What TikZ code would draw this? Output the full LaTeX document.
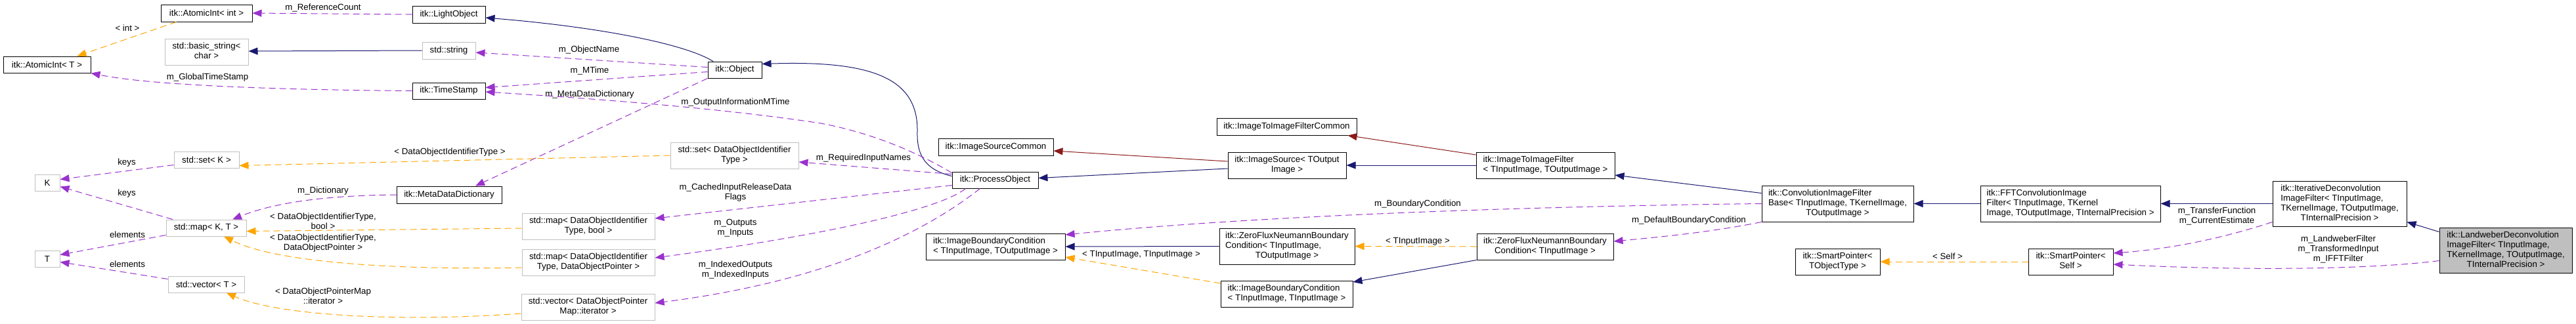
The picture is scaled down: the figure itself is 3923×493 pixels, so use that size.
\documentclass[tikz,border=0pt]{standalone}
\usepackage{fontspec}
\setmainfont{Liberation Sans}
\usetikzlibrary{arrows.meta}
\definecolor{edgeblue}{HTML}{191970}
\definecolor{edgepurple}{HTML}{9A32CD}
\definecolor{edgeorange}{HTML}{FFA500}
\definecolor{edgered}{HTML}{8B1A1A}
\definecolor{greybd}{HTML}{BFBFBF}
\definecolor{greyfill}{HTML}{BFBFBF}
\newcommand{\LinesL}[1]{\begin{tabular}{@{}l@{}}#1\end{tabular}}
\newcommand{\LinesC}[1]{\begin{tabular}{@{}c@{}}#1\end{tabular}}
\newcommand{\Cl}[1]{\multicolumn{1}{@{}c@{}}{#1}}
\begin{document}
\begin{tikzpicture}[x=1pt,y=-1pt,
  font=\fontsize{13.3}{15}\selectfont,
  dbox/.style={draw=black, line width=1pt, fill=white, inner sep=0pt, rectangle},
  gbox/.style={draw=greybd, line width=1pt, fill=white, inner sep=0pt, rectangle},
  hbox/.style={draw=black, line width=1pt, fill=greyfill, inner sep=0pt, rectangle},
  lbl/.style={inner sep=0pt, align=center},
  inh/.style={draw=edgeblue, line width=1pt, -{Triangle[length=14pt,width=11pt]}},
  prot/.style={draw=edgered, line width=1pt, -{Triangle[length=14pt,width=11pt]}},
  use/.style={draw=edgepurple, line width=1pt, dash pattern=on 10pt off 6pt, -{Triangle[length=14pt,width=11pt]}},
  tmpl/.style={draw=edgeorange, line width=1pt, dash pattern=on 10pt off 6pt, -{Triangle[length=14pt,width=11pt]}}
]
\fill[white] (0,0) rectangle (3923,493);
\useasboundingbox (0,0) rectangle (3923,493);

% nodes
\node[dbox, minimum width=139pt, minimum height=26pt] (atomInt) at (314.5,20) {itk::AtomicInt< int >};
\node[gbox, minimum width=127pt, minimum height=40pt] (basicStr) at (314.5,79) {\LinesC{std::basic\_string<\\char >}};
\node[dbox, minimum width=133pt, minimum height=25pt] (atomT) at (71.5,98.5) {itk::AtomicInt< T >};
\node[gbox, minimum width=99pt, minimum height=25pt] (setK) at (314.5,243.5) {std::set< K >};
\node[gbox, minimum width=38pt, minimum height=25pt] (K) at (72,278.5) {K};
\node[gbox, minimum width=38pt, minimum height=25pt] (T) at (72,394.5) {T};
\node[gbox, minimum width=122pt, minimum height=25pt] (mapKT) at (314,347.5) {std::map< K, T >};
\node[gbox, minimum width=116pt, minimum height=25pt] (vecT) at (314,433.5) {std::vector< T >};
\node[dbox, minimum width=160pt, minimum height=26pt] (metaDict) at (684,297) {itk::MetaDataDictionary};
\node[dbox, minimum width=111pt, minimum height=26pt] (lightObj) at (683.5,22) {itk::LightObject};
\node[gbox, minimum width=81pt, minimum height=26pt] (stdString) at (683.5,77) {std::string};
\node[dbox, minimum width=111pt, minimum height=25pt] (timeStamp) at (683.5,138.5) {itk::TimeStamp};
\node[dbox, minimum width=82pt, minimum height=25pt] (object) at (1119,106.5) {itk::Object};
\node[gbox, minimum width=195pt, minimum height=40pt] (setDOIT) at (1118.5,237) {\LinesC{std::set< DataObjectIdentifier\\Type >}};
\node[gbox, minimum width=202pt, minimum height=40pt] (mapBool) at (896,345) {\LinesC{std::map< DataObjectIdentifier\\Type, bool >}};
\node[gbox, minimum width=202pt, minimum height=40pt] (mapPtr) at (896,400) {\LinesC{std::map< DataObjectIdentifier\\Type, DataObjectPointer >}};
\node[gbox, minimum width=203pt, minimum height=40pt] (vecIt) at (895.5,468) {\LinesC{std::vector< DataObjectPointer\\Map::iterator >}};
\node[dbox, minimum width=175pt, minimum height=26pt] (isCommon) at (1516.5,224) {itk::ImageSourceCommon};
\node[dbox, minimum width=131pt, minimum height=25pt] (procObj) at (1515.5,274.5) {itk::ProcessObject};
\node[dbox, minimum width=212pt, minimum height=40pt] (ibcIO) at (1516,376) {\LinesL{itk::ImageBoundaryCondition\\< TInputImage, TOutputImage >}};
\node[dbox, minimum width=213pt, minimum height=26pt] (i2iCommon) at (1959.5,193) {itk::ImageToImageFilterCommon};
\node[dbox, minimum width=180pt, minimum height=40pt] (imgSource) at (1960,252) {\LinesC{itk::ImageSource< TOutput\\Image >}};
\node[dbox, minimum width=206pt, minimum height=55pt] (zfIO) at (1960,375.5) {\LinesL{itk::ZeroFluxNeumannBoundary\\Condition< TInputImage,\\\Cl{TOutputImage >}}};
\node[dbox, minimum width=201pt, minimum height=40pt] (ibcII) at (1959.5,448) {\LinesL{itk::ImageBoundaryCondition\\< TInputImage, TInputImage >}};
\node[dbox, minimum width=211pt, minimum height=40pt] (i2i) at (2353.5,252) {\LinesL{itk::ImageToImageFilter\\< TInputImage, TOutputImage >}};
\node[dbox, minimum width=208pt, minimum height=40pt] (zfI) at (2353,376) {\LinesC{itk::ZeroFluxNeumannBoundary\\Condition< TInputImage >}};
\node[dbox, minimum width=231pt, minimum height=55pt] (convBase) at (2798.5,310.5) {\LinesL{itk::ConvolutionImageFilter\\Base< TInputImage, TKernelImage,\\\Cl{TOutputImage >}}};
\node[dbox, minimum width=129pt, minimum height=40pt] (spTObj) at (2798.5,399) {\LinesC{itk::SmartPointer<\\TObjectType >}};
\node[dbox, minimum width=274pt, minimum height=55pt] (fftConv) at (3153,310.5) {\LinesL{itk::FFTConvolutionImage\\Filter< TInputImage, TKernel\\Image, TOutputImage, TInternalPrecision >}};
\node[dbox, minimum width=129pt, minimum height=40pt] (spSelf) at (3153.5,399) {\LinesC{itk::SmartPointer<\\Self >}};
\node[dbox, minimum width=204pt, minimum height=69pt] (iterDeconv) at (3563,310.5) {\LinesL{itk::IterativeDeconvolution\\ImageFilter< TInputImage,\\\Cl{TKernelImage, TOutputImage,}\\\Cl{TInternalPrecision >}}};
\node[hbox, minimum width=202pt, minimum height=69pt] (landweber) at (3816,381.5) {\LinesL{itk::LandweberDeconvolution\\ImageFilter< TInputImage,\\\Cl{TKernelImage, TOutputImage,}\\\Cl{TInternalPrecision >}}};

% labels
\node[lbl] (lRefCount) at (492,12) {m\_ReferenceCount};
\node[lbl] (lInt) at (194,43) {< int >};
\node[lbl] (lGTS) at (316,118) {m\_GlobalTimeStamp};
\node[lbl] (lDOIT) at (685,232) {< DataObjectIdentifierType >};
\node[lbl] (lKeys1) at (193,248) {keys};
\node[lbl] (lKeys2) at (193,295) {keys};
\node[lbl] (lElem1) at (194,358) {elements};
\node[lbl] (lElem2) at (194,403) {elements};
\node[lbl] (lDict) at (492,291) {m\_Dictionary};
\node[lbl] (lBool) at (492,337) {< DataObjectIdentifierType,\\bool >};
\node[lbl] (lPtr) at (492,371) {< DataObjectIdentifierType,\\DataObjectPointer >};
\node[lbl] (lIt) at (492,451) {< DataObjectPointerMap\\::iterator >};
\node[lbl] (lObjName) at (897,76) {m\_ObjectName};
\node[lbl] (lMTime) at (898,108) {m\_MTime};
\node[lbl] (lMDD) at (898,144) {m\_MetaDataDictionary};
\node[lbl] (lOIM) at (1120,156) {m\_OutputInformationMTime};
\node[lbl] (lRIN) at (1315,241) {m\_RequiredInputNames};
\node[lbl] (lCached) at (1120,294) {m\_CachedInputReleaseData\\Flags};
\node[lbl] (lIO) at (1120,348) {m\_Outputs\\m\_Inputs};
\node[lbl] (lIdx) at (1120,412) {m\_IndexedOutputs\\m\_IndexedInputs};
\node[lbl] (lTT) at (1738,388) {< TInputImage, TInputImage >};
\node[lbl] (lBC) at (2159,311) {m\_BoundaryCondition};
\node[lbl] (lTI) at (2159,368) {< TInputImage >};
\node[lbl] (lDBC) at (2572,336) {m\_DefaultBoundaryCondition};
\node[lbl] (lSelf) at (2966,391) {< Self >};
\node[lbl] (lTF) at (3376,329.5) {m\_TransferFunction\\m\_CurrentEstimate};
\node[lbl] (lLW) at (3561,379.5) {m\_LandweberFilter\\m\_TransformedInput\\m\_IFFTFilter};

% edges
\draw[tmpl] ([xshift=24pt]atomInt.south west) -- ([xshift=46pt]atomT.north);
\draw[use] (lightObj.west) -- (atomInt.east);
\draw[inh] (stdString.west) -- ([yshift=1pt]basicStr.east);
\draw[use] (timeStamp.west) .. controls (420,137) and (230,130) .. (atomT.south east);
\draw[inh] ([xshift=-33pt]object.north) .. controls (1040,65) and (900,40) .. ([yshift=-5pt]lightObj.east);
\draw[use] ([yshift=4pt]object.west) -- ([yshift=-3pt]stdString.east);
\draw[use] ([yshift=-3pt]object.west) -- ([yshift=5pt]timeStamp.east);
\draw[use] (object.south west) -- ([xshift=40pt]metaDict.north);
\draw[inh] ([yshift=6pt]procObj.west) .. controls (1405,258) and (1396,232) .. (1397,200) .. controls (1398,120) and (1330,92) .. ([yshift=9pt]object.east);
\draw[use] ([yshift=11pt]procObj.west) .. controls (1410,240) and (1340,205) .. (1250,188) .. controls (1100,165) and (900,150) .. ([yshift=-1.5pt]timeStamp.east);
\draw[use] ([yshift=9pt]procObj.west) -- ([yshift=-10pt]setDOIT.east);
\draw[tmpl] (setDOIT.west) -- ([yshift=-9pt]setK.east);
\draw[use] ([yshift=-8pt]setK.west) -- ([yshift=5pt]K.east);
\draw[use] (metaDict.west) .. controls (500,298) and (420,308) .. ([xshift=40pt]mapKT.north);
\draw[use] ([xshift=-51pt]mapKT.north) -- ([yshift=-6pt]K.east);
\draw[use] ([yshift=-11pt]mapKT.west) -- ([yshift=6pt]T.east);
\draw[use] ([yshift=8pt]vecT.west) -- ([yshift=-5pt]T.east);
\draw[tmpl] ([yshift=-3pt]mapBool.west) -- ([yshift=-5pt]mapKT.east);
\draw[tmpl] ([yshift=-8pt]mapPtr.west) .. controls (600,412) and (420,400) .. ([xshift=27pt]mapKT.south);
\draw[tmpl] ([yshift=-10pt]vecIt.west) .. controls (600,492) and (420,480) .. ([xshift=31pt]vecT.south);
\draw[use] ([yshift=-8pt]procObj.west) -- ([yshift=12pt]mapBool.east);
\draw[use] ([xshift=-45pt]procObj.south) .. controls (1430,320) and (1250,360) .. ([yshift=7pt]mapPtr.east);
\draw[use] ([xshift=-23pt]procObj.south) .. controls (1400,360) and (1250,430) .. ([yshift=6pt]vecIt.east);
\draw[inh] ([yshift=-5pt]imgSource.west) -- ([yshift=3pt]procObj.east);
\draw[prot] ([yshift=6pt]imgSource.west) -- ([yshift=-6pt]isCommon.east);
\draw[inh] (i2i.west) -- (imgSource.east);
\draw[prot] ([yshift=16pt]i2i.west) -- ([xshift=93pt]i2iCommon.south);
\draw[inh] ([yshift=16pt]convBase.west) -- ([yshift=-15pt]i2i.east);
\draw[use] (convBase.west) .. controls (2300,315) and (1900,330) .. ([yshift=18pt]ibcIO.east);
\draw[use] (convBase.south west) .. controls (2600,355) and (2520,362) .. ([yshift=8pt]zfI.east);
\draw[inh] (zfIO.west) -- (ibcIO.east);
\draw[tmpl] ([yshift=16pt]ibcII.west) -- ([yshift=-16pt]ibcIO.east);
\draw[tmpl] (zfI.west) -- (zfIO.east);
\draw[inh] (zfI.south west) -- ([yshift=18pt]ibcII.east);
\draw[inh] (fftConv.west) -- (convBase.east);
\draw[inh] (iterDeconv.west) -- (fftConv.east);
\draw[inh] ([yshift=28pt]landweber.west) -- ([yshift=-28pt]iterDeconv.east);
\draw[use] ([yshift=-28pt]iterDeconv.west) .. controls (3380,365) and (3300,380) .. ([yshift=13pt]spSelf.east);
\draw[use] ([yshift=-16pt]landweber.west) .. controls (3600,412) and (3400,412) .. ([yshift=-4pt]spSelf.east);
\draw[tmpl] (spSelf.west) -- (spTObj.east);
\end{tikzpicture}
\end{document}
